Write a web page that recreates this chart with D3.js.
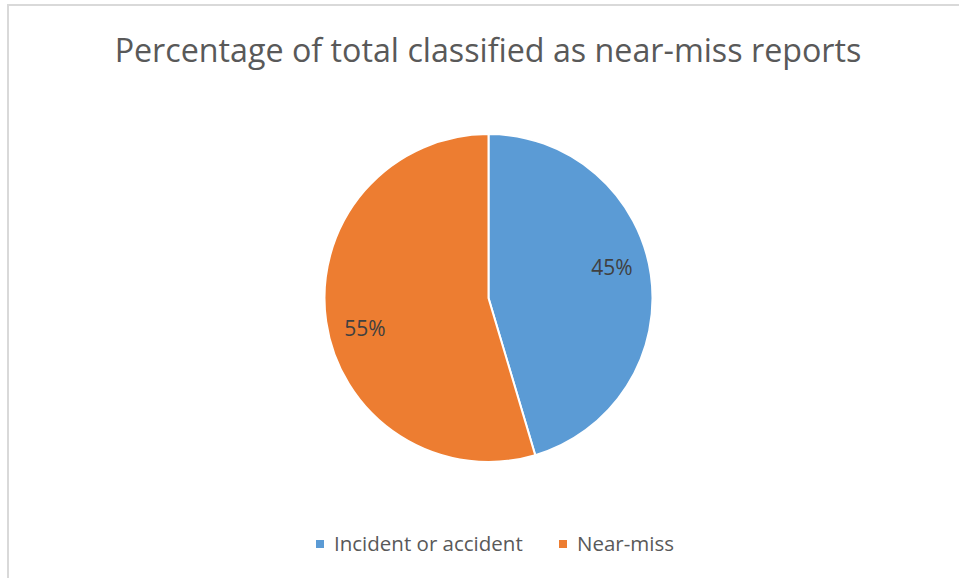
<!DOCTYPE html>
<html>
<head>
<meta charset="utf-8">
<script src="https://cdn.jsdelivr.net/npm/d3@7"></script>
<style>
  body { margin: 0; background: #fff; }
  text { font-family: "Open Sans", "Noto Sans", sans-serif; }
</style>
</head>
<body>
<svg id="chart"></svg>
<script>
const categories = ['Incident or accident', 'Near-miss'];
const values = [45.4, 54.6];
const colors = ['#5B9BD5', '#ED7D31'];
const chartTitle = 'Percentage of total classified as near-miss reports';

const width = 959, height = 578;
const cx = 488.5, cy = 298, radius = 164;

const svg = d3.select('#chart').attr('width', width).attr('height', height);

// fit a text node to a target width by scaling its font size
function fitWidth(sel, target) {
  sel.each(function () {
    const w = this.getComputedTextLength();
    const fs = parseFloat(d3.select(this).style('font-size'));
    d3.select(this).style('font-size', (fs * target / w) + 'px');
  });
}

// chart area border (only left/top visible in the crop)
svg.append('rect')
  .attr('x', 8).attr('y', 5)
  .attr('width', width + 10).attr('height', height + 10)
  .attr('fill', '#fff')
  .attr('stroke', '#d9d9d9')
  .attr('stroke-width', 2);

svg.append('text')
  .attr('x', 488).attr('y', 62)
  .attr('text-anchor', 'middle')
  .attr('fill', '#595959')
  .style('font-size', '28px')
  .text(chartTitle)
  .call(fitWidth, 747);

const data = categories.map((c, i) => ({ name: c, value: values[i], color: colors[i] }));
const total = d3.sum(values);

const pie = d3.pie().value((d) => d.value).sort(null);
const arc = d3.arc().innerRadius(0).outerRadius(radius);

const g = svg.append('g').attr('transform', `translate(${cx},${cy})`);

const arcs = pie(data);

g.selectAll('path')
  .data(arcs)
  .enter()
  .append('path')
  .attr('d', arc)
  .attr('fill', (d) => d.data.color)
  .attr('stroke', '#fff')
  .attr('stroke-width', 2);

// labels sit a bit outward and slightly counter-clockwise of the mid angle
g.selectAll('.slice-label')
  .data(arcs)
  .enter()
  .append('text')
  .attr('class', 'slice-label')
  .attr('transform', (d) => {
    const a = (d.startAngle + d.endAngle) / 2 - 0.095;
    return `translate(${d3.pointRadial(a, radius * 0.775)})`;
  })
  .attr('text-anchor', 'middle')
  .attr('dy', '0.35em')
  .attr('fill', '#404040')
  .style('font-size', '21px')
  .text((d) => Math.round((d.data.value / total) * 100) + '%');

// legend
const legendX = [316, 559];
const legend = svg.selectAll('.legend')
  .data(data)
  .enter()
  .append('g')
  .attr('class', 'legend')
  .attr('transform', (d, i) => `translate(${legendX[i]},544)`);

legend.append('rect')
  .attr('x', 0).attr('y', -4)
  .attr('width', 8).attr('height', 8)
  .attr('fill', (d) => d.color);

legend.append('text')
  .attr('x', 18).attr('y', 0)
  .attr('dy', '0.35em')
  .attr('fill', '#595959')
  .style('font-size', '20.5px')
  .text((d) => d.name);
</script>
</body>
</html>
